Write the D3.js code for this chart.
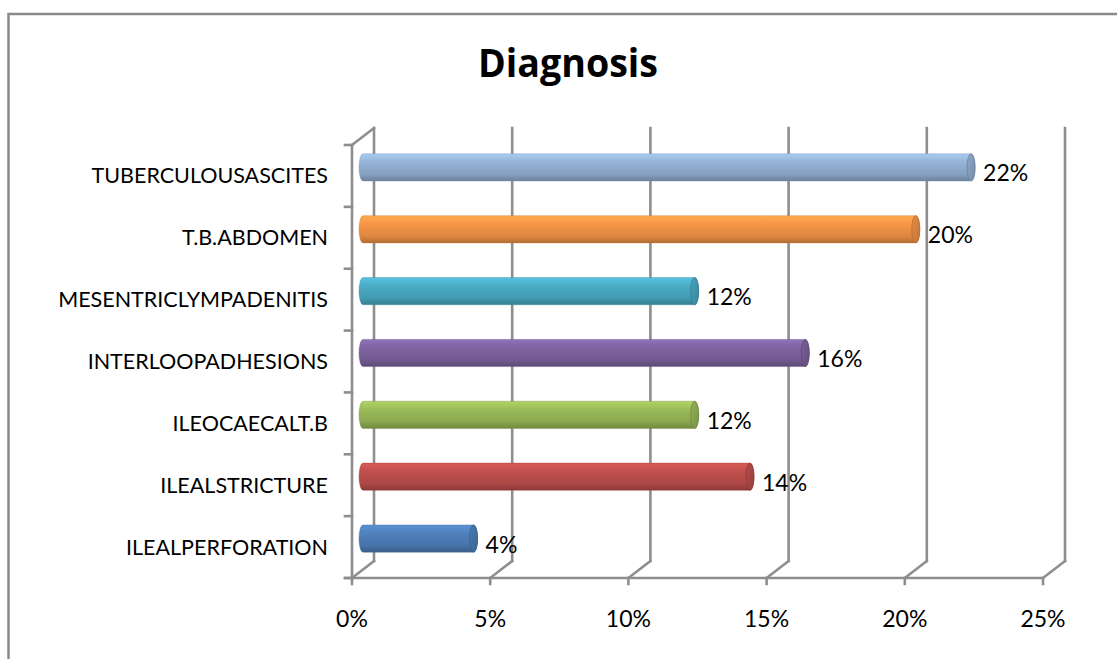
<!DOCTYPE html>
<html>
<head>
<meta charset="utf-8">
<script src="https://cdn.jsdelivr.net/npm/d3@7"></script>
<style>
  html, body { margin: 0; padding: 0; background: #fff; }
  svg { display: block; }
  text { font-family: Lato, "Open Sans", "Liberation Sans", sans-serif; fill: #000; }
</style>
</head>
<body>
<svg id="chart" width="1117" height="659"></svg>
<script>
// Diagnosis breakdown, listed bottom-to-top as in the category axis
const categories = [
  "ILEALPERFORATION",
  "ILEALSTRICTURE",
  "ILEOCAECALT.B",
  "INTERLOOPADHESIONS",
  "MESENTRICLYMPADENITIS",
  "T.B.ABDOMEN",
  "TUBERCULOUSASCITES"
];
const percentages = [4, 14, 12, 16, 12, 20, 22];
const barColors = ["#4f81bd", "#c0504d", "#9bbb59", "#8064a2", "#4bacc6", "#f79646", "#95b3d7"];
const xTicks = [0, 5, 10, 15, 20, 25];
const chartTitle = "Diagnosis";

const svg = d3.select("#chart");
const W = 1117, H = 659;

// 3-D projection: the back wall sits up and to the right of the front plane
const depthX = 22, depthY = -17;
const plot = { left: 352, right: 1043, top: 145, bottom: 578 };
const gridColor = "#8e8e8e";

const x = d3.scaleLinear().domain([0, 25]).range([plot.left, plot.right]);
const y = d3.scaleBand().domain(categories.slice().reverse()).range([plot.top, plot.bottom]);

// Outer chart frame
svg.append("rect")
  .attr("x", 8.5).attr("y", 14)
  .attr("width", W + 20).attr("height", H + 20)
  .attr("fill", "#fff").attr("stroke", "#8a8a8a").attr("stroke-width", 2.5);

// Title
svg.append("text")
  .attr("x", 568).attr("y", 77)
  .attr("text-anchor", "middle")
  .style("font-family", "'Open Sans', Lato, sans-serif")
  .style("font-weight", "bold")
  .style("font-size", "40px")
  .text(chartTitle)
  .attr("textLength", 180)
  .attr("lengthAdjust", "spacingAndGlyphs");

const walls = svg.append("g")
  .attr("fill", "none")
  .attr("stroke", gridColor)
  .attr("stroke-width", 2.6)
  .attr("stroke-linecap", "square");

// Back-wall gridlines
walls.selectAll("line.grid").data(xTicks).join("line")
  .attr("class", "grid")
  .attr("x1", d => x(d) + depthX).attr("x2", d => x(d) + depthX)
  .attr("y1", plot.top + depthY).attr("y2", plot.bottom + depthY);

// Floor edges running from front to back at each tick
walls.selectAll("line.floor").data(xTicks).join("line")
  .attr("class", "floor")
  .attr("x1", d => x(d)).attr("y1", plot.bottom)
  .attr("x2", d => x(d) + depthX).attr("y2", plot.bottom + depthY);

// Left wall: front edge and top edge
walls.append("line")
  .attr("x1", plot.left).attr("x2", plot.left)
  .attr("y1", plot.top).attr("y2", plot.bottom);
walls.append("line")
  .attr("x1", plot.left).attr("y1", plot.top)
  .attr("x2", plot.left + depthX).attr("y2", plot.top + depthY);

// Front baseline of the value axis
walls.append("line")
  .attr("x1", plot.left - 7).attr("x2", plot.right)
  .attr("y1", plot.bottom).attr("y2", plot.bottom);

// Value axis tick marks
walls.selectAll("line.xtick").data(xTicks).join("line")
  .attr("class", "xtick")
  .attr("x1", d => x(d)).attr("x2", d => x(d))
  .attr("y1", plot.bottom).attr("y2", plot.bottom + 6);

// Category axis tick marks at band boundaries
const boundaries = y.domain().map(c => y(c)).concat([plot.bottom]);
walls.selectAll("line.ytick").data(boundaries).join("line")
  .attr("class", "ytick")
  .attr("x1", plot.left - 7).attr("x2", plot.left)
  .attr("y1", d => d).attr("y2", d => d);

// Value axis labels
svg.append("g").selectAll("text").data(xTicks).join("text")
  .attr("x", d => x(d))
  .attr("y", 627)
  .attr("text-anchor", "middle")
  .style("font-size", "23px")
  .text(d => d + "%");

// Category labels
svg.append("g").selectAll("text").data(categories).join("text")
  .attr("x", 328)
  .attr("y", d => y(d) + y.bandwidth() / 2 + 7.5)
  .attr("text-anchor", "end")
  .style("font-size", "21.5px")
  .text(d => d);

// Cylinder gradients
const defs = svg.append("defs");
barColors.forEach((c, i) => {
  const base = d3.color(c);
  const g = defs.append("linearGradient")
    .attr("id", "cyl" + i)
    .attr("x1", 0).attr("y1", 0).attr("x2", 0).attr("y2", 1);
  g.append("stop").attr("offset", "0%").attr("stop-color", base.brighter(0.35));
  g.append("stop").attr("offset", "30%").attr("stop-color", base);
  g.append("stop").attr("offset", "75%").attr("stop-color", base.darker(0.3));
  g.append("stop").attr("offset", "100%").attr("stop-color", base.darker(0.9));
  const cg = defs.append("linearGradient")
    .attr("id", "cap" + i)
    .attr("x1", 0).attr("y1", 0).attr("x2", 1).attr("y2", 1);
  cg.append("stop").attr("offset", "0%").attr("stop-color", base.darker(0.15));
  cg.append("stop").attr("offset", "100%").attr("stop-color", base.darker(0.7));
});

// Bars are drawn at mid-depth
const barH = y.bandwidth() * 0.44;
const capRx = 4;
const barCenter = d => y(d) + y.bandwidth() / 2 + depthY / 2;
const barStart = x(0) + depthX / 2;
const barEnd = v => x(v) + depthX / 2;

const rows = categories.map((c, i) => ({ cat: c, value: percentages[i], idx: i }));

const bars = svg.append("g").selectAll("g").data(rows).join("g");

bars.append("path")
  .attr("d", d => {
    const cy = barCenter(d.cat), h = barH / 2;
    const x0 = barStart, x1 = barEnd(d.value);
    return `M${x0},${cy - h}` +
      `L${x1},${cy - h}` +
      `A${capRx},${h} 0 0 1 ${x1},${cy + h}` +
      `L${x0},${cy + h}` +
      `A${capRx},${h} 0 0 1 ${x0},${cy - h}Z`;
  })
  .attr("fill", d => `url(#cyl${d.idx})`)
  .attr("stroke", d => d3.color(barColors[d.idx]).darker(0.6))
  .attr("stroke-opacity", 0.5)
  .attr("stroke-width", 0.8);

bars.append("ellipse")
  .attr("cx", d => barEnd(d.value))
  .attr("cy", d => barCenter(d.cat))
  .attr("rx", capRx)
  .attr("ry", barH / 2)
  .attr("fill", d => `url(#cap${d.idx})`)
  .attr("stroke", d => d3.color(barColors[d.idx]).darker(0.9))
  .attr("stroke-width", 0.8);

// Data labels
bars.append("text")
  .attr("x", d => barEnd(d.value) + capRx + 8)
  .attr("y", d => barCenter(d.cat) + 14)
  .style("font-size", "23px")
  .text(d => d.value + "%");
</script>
</body>
</html>
